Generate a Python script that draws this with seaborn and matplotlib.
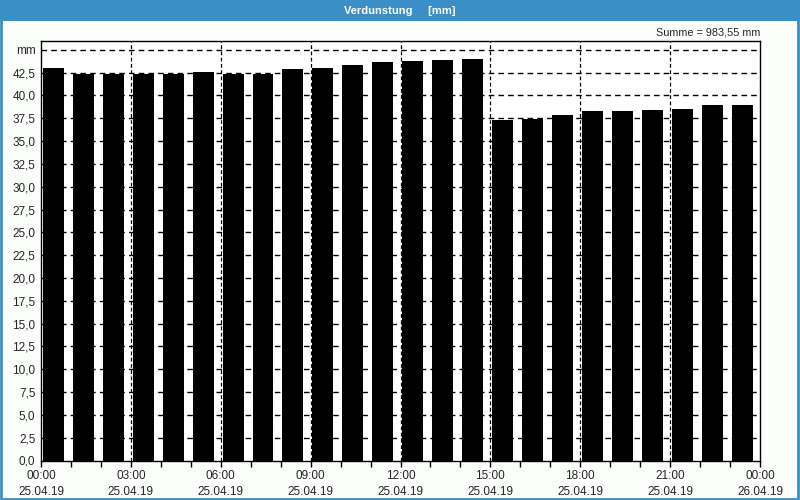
import numpy as np
import pandas as pd
import matplotlib
matplotlib.use("Agg")
import matplotlib.pyplot as plt
import seaborn as sns
from matplotlib.patches import Rectangle

# Stündliche Verdunstung 25.04.19
stunden = np.arange(24)
werte = [43.0, 42.3, 42.4, 42.3, 42.4, 42.6, 42.3, 42.3, 42.9, 43.0, 43.35, 43.7,
         43.8, 43.9, 44.0, 37.35, 37.45, 37.9, 38.35, 38.35, 38.45, 38.55, 39.0, 39.0]
x_labels = ["00:00\n25.04.19", "03:00\n25.04.19", "06:00\n25.04.19", "09:00\n25.04.19",
            "12:00\n25.04.19", "15:00\n25.04.19", "18:00\n25.04.19", "21:00\n25.04.19",
            "00:00\n26.04.19"]
summe_text = "Summe = 983,55 mm"
titel = "Verdunstung     [mm]"

sns.set_style("white")
plt.rcParams['font.family'] = ['Liberation Sans', 'DejaVu Sans']

df = pd.DataFrame({"pos": stunden + 0.41, "wert": werte})

fig = plt.figure(figsize=(8, 5), dpi=100)
fig.patch.set_facecolor("#fcfefc")
ax = fig.add_axes([0.05125, 0.079, 0.89875, 0.8396])
ax.set_facecolor("white")

sns.barplot(data=df, x="pos", y="wert", native_scale=True, width=0.70,
            color="black", saturation=1, ax=ax, zorder=1)
for p in ax.patches:
    p.set_edgecolor("none")

ax.set_xlim(0, 24)
ax.set_ylim(0, 46)

# y-Achse
yt = np.arange(0, 45.1, 2.5)
ax.set_yticks(yt)
ylab = [f"{v:.1f}".replace(".", ",") for v in yt]
ylab[-1] = "mm"
ax.set_yticklabels(ylab, fontsize=8.5)

# x-Achse
ax.set_xticks(np.arange(0, 25, 3))
ax.set_xticklabels(x_labels, fontsize=8.5, linespacing=1.45)
ax.set_xticks(np.arange(0, 25, 1), minor=True)
ax.tick_params(axis="x", which="both", direction="out", length=4, width=1,
               color="black", bottom=True, pad=3)
ax.tick_params(axis="y", length=0, pad=4)
ax.set_xlabel("")
ax.set_ylabel("")

# Gitter
for v in yt[1:]:
    ax.axhline(v, color="black", lw=1, ls=(0, (4, 3)), zorder=0.5)
for h in range(3, 24, 3):
    ax.axvline(h, color="black", lw=0.9, ls=(0, (3, 2)), zorder=2)

for s in ax.spines.values():
    s.set_color("black")
    s.set_linewidth(1)

# Titelleiste
fig.add_artist(Rectangle((0, 0.958), 1, 0.042, transform=fig.transFigure,
                         facecolor="#3b8fc7", edgecolor="none"))
fig.text(0.5, 0.979, titel, ha="center", va="center", color="white",
         fontsize=8, fontweight="bold")
fig.add_artist(Rectangle((0.001, 0.003), 0.997, 0.995, transform=fig.transFigure,
                         facecolor="none", edgecolor="#3b8fc7", lw=2))

fig.text(0.951, 0.935, summe_text, ha="right", va="center", fontsize=7.8)

fig.savefig("out.png", dpi=100, facecolor=fig.get_facecolor())
